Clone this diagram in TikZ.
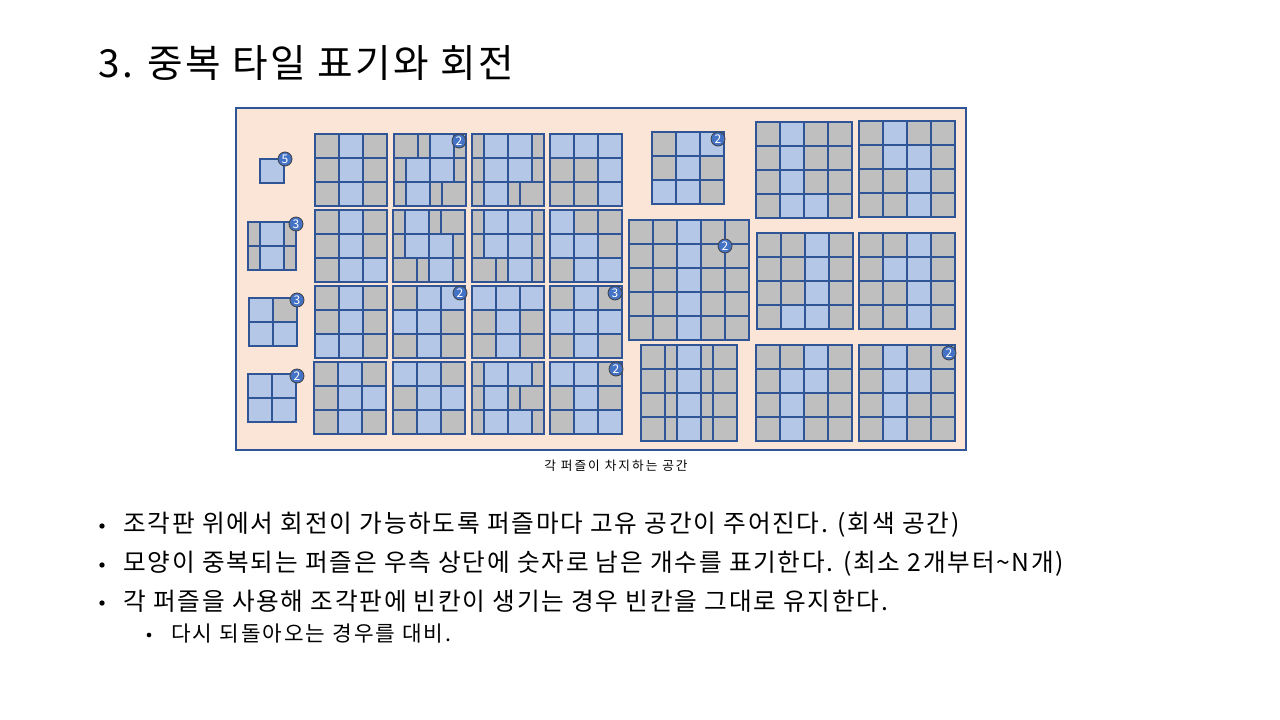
\documentclass[tikz,border=0pt]{standalone}
\usepackage{fontspec}
\setmainfont{Noto Sans CJK KR}
\definecolor{cpanel}{HTML}{FBE5D6}
\definecolor{cline}{HTML}{2F5597}
\definecolor{cg}{HTML}{BFBFBF}
\definecolor{cb}{HTML}{B4C7E7}
\definecolor{cbadge}{HTML}{4472C4}
\newcommand\pgrid[4]{%
 \begin{scope}[shift={(#1,#2)}]
 \foreach \i in {0,...,#3}{\foreach \j in {0,...,#3}{\draw[cellg] (\i*24,\j*24) rectangle ++(24,24);}}
 \foreach \cx/\cy in {#4}{\draw[cellb] (\cx*24,\cy*24) rectangle ++(24,24);}
 \end{scope}}
\newcommand\sgrid[3]{%
 \begin{scope}[shift={(#1,#2)}]
 \foreach \xa/\xb/\rr/\colr in {#3}{\draw[line width=1pt,draw=cline,fill=\colr] (\xa,\rr*24) rectangle (\xb,\rr*24+24);}
 \end{scope}}
\begin{document}
\begin{tikzpicture}[x=0.75pt,y=-0.75pt,
  cellg/.style={fill=cg,draw=cline,line width=1pt},
  cellb/.style={fill=cb,draw=cline,line width=1pt},
  badge/.style={circle,fill=cbadge,draw=black!75,line width=0.6pt,inner sep=0pt,minimum size=10.5pt,text=white,font=\fontsize{9}{9}\selectfont},
  dot/.style={circle,fill=black,inner sep=0pt,minimum size=4pt},
  btext/.style={anchor=base west,inner sep=0pt,font=\fontsize{18.5}{20}\selectfont\addfontfeatures{LetterSpace=7}},
  stext/.style={anchor=base west,inner sep=0pt,font=\fontsize{16}{18}\selectfont\addfontfeatures{LetterSpace=9.5}}]
\useasboundingbox (0,0) rectangle (1280,720);
\fill[white] (0,0) rectangle (1280,720);
% title
\node[anchor=base west,inner sep=0pt,font=\fontsize{29}{34}\selectfont\addfontfeatures{LetterSpace=6.5}] (title) at (98,78) {3. 중복 타일 표기와 회전};
% panel
\draw[fill=cpanel,draw=cline,line width=0.8pt] (236,108) rectangle (966,450);
% small pieces
\pgrid{260}{159}{0}{0/0}
\sgrid{248}{222}{0/12/0/cg,12/36/0/cb,36/48/0/cg,0/12/1/cg,12/36/1/cb,36/48/1/cg}
\pgrid{249}{298}{1}{0/0,0/1,1/1}
\pgrid{248}{374}{1}{0/0,1/0,0/1,1/1}
% column 1
\pgrid{315}{134}{2}{1/0,1/1,1/2}
\pgrid{315}{210}{2}{1/0,1/1,1/2,2/2}
\pgrid{315}{286}{2}{1/0,1/1,0/2,1/2}
\pgrid{314}{362}{2}{1/0,1/1,2/1,1/2}
% column 2
\sgrid{394}{134}{0/24/0/cg,24/36/0/cg,36/60/0/cb,60/72/0/cg,0/12/1/cg,12/36/1/cb,36/60/1/cb,60/72/1/cg,0/12/2/cg,12/36/2/cb,36/48/2/cg,48/72/2/cg}
\sgrid{393}{210}{0/12/0/cg,12/36/0/cb,36/48/0/cg,48/72/0/cg,0/12/1/cg,12/36/1/cb,36/60/1/cb,60/72/1/cg,0/24/2/cg,24/36/2/cg,36/60/2/cb,60/72/2/cg}
\pgrid{393}{286}{2}{1/0,2/0,0/1,1/1,1/2}
\pgrid{393}{362}{2}{0/0,1/0,1/1,2/1,1/2}
% column 3
\sgrid{472}{134}{0/12/0/cg,12/36/0/cb,36/60/0/cb,60/72/0/cg,0/12/1/cg,12/36/1/cb,36/60/1/cb,60/72/1/cg,0/12/2/cg,12/36/2/cb,36/48/2/cg,48/72/2/cg}
\sgrid{472}{210}{0/12/0/cg,12/36/0/cb,36/60/0/cb,60/72/0/cg,0/12/1/cg,12/36/1/cb,36/60/1/cb,60/72/1/cg,0/24/2/cg,24/36/2/cg,36/60/2/cb,60/72/2/cg}
\pgrid{472}{286}{2}{0/0,1/0,2/0,1/1,1/2}
\sgrid{472}{362}{0/12/0/cg,12/36/0/cb,36/60/0/cb,60/72/0/cg,0/12/1/cg,12/36/1/cb,36/48/1/cg,48/72/1/cg,0/12/2/cg,12/36/2/cb,36/60/2/cb,60/72/2/cg}
% column 4
\pgrid{550}{134}{2}{0/0,1/0,2/0,2/1,2/2}
\pgrid{550}{210}{2}{0/0,0/1,1/1,1/2,2/2}
\pgrid{550}{286}{2}{1/0,0/1,1/1,2/1,1/2}
\pgrid{550}{362}{2}{0/0,1/0,1/1,1/2,2/2}
% right middle
\pgrid{652}{132}{2}{1/0,2/0,1/1,0/2,1/2}
\pgrid{629}{220}{4}{2/0,2/1,2/2,2/3,2/4}
\sgrid{641}{345}{0/24/0/cg,24/36/0/cg,36/60/0/cb,60/72/0/cg,72/96/0/cg,0/24/1/cg,24/36/1/cg,36/60/1/cb,60/72/1/cg,72/96/1/cg,0/24/2/cg,24/36/2/cg,36/60/2/cb,60/72/2/cg,72/96/2/cg,0/24/3/cg,24/36/3/cg,36/60/3/cb,60/72/3/cg,72/96/3/cg}
% right 4x4
\pgrid{756}{122}{3}{1/0,1/1,1/2,1/3,2/3}
\pgrid{859}{121}{3}{1/0,1/1,2/1,2/2,2/3}
\pgrid{757}{233}{3}{2/0,2/1,2/2,1/3,2/3}
\pgrid{859}{233}{3}{2/0,1/1,2/1,2/2,2/3}
\pgrid{756}{345}{3}{2/0,1/1,2/1,1/2,1/3}
\pgrid{859}{345}{3}{1/0,1/1,2/1,1/2,1/3}
% badges
\node[badge] (b5) at (285,159) {5};
\node[badge] (b3a) at (296,224) {3};
\node[badge] (b3b) at (297,300) {3};
\node[badge] (b2a) at (297,376) {2};
\node[badge] (b2b) at (459,141) {2};
\node[badge] (b2c) at (460,293) {2};
\node[badge] (b3c) at (615,293) {3};
\node[badge] (b2d) at (616,369) {2};
\node[badge] (b2e) at (718,139) {2};
\node[badge] (b2f) at (725,246) {2};
\node[badge] (b2g) at (949,353) {2};
% caption
\node[inner sep=0pt,font=\fontsize{9.5}{11}\selectfont\addfontfeatures{LetterSpace=16}] (cap) at (616,466) {각 퍼즐이 차지하는 공간};
% bullets
\node[dot] (d1) at (102,526) {};
\node[dot] (d2) at (102,565) {};
\node[dot] (d3) at (102,603) {};
\node[dot,minimum size=3.5pt] (d4) at (149,635) {};
\node[btext] (t1) at (123,532) {조각판 위에서 회전이 가능하도록 퍼즐마다 고유 공간이 주어진다. (회색 공간)};
\node[btext] (t2) at (123,571) {모양이 중복되는 퍼즐은 우측 상단에 숫자로 남은 개수를 표기한다. (최소 2개부터\textasciitilde N개)};
\node[btext] (t3) at (123,610) {각 퍼즐을 사용해 조각판에 빈칸이 생기는 경우 빈칸을 그대로 유지한다.};
\node[stext] (t4) at (171,641) {다시 되돌아오는 경우를 대비.};
\end{tikzpicture}
\end{document}
